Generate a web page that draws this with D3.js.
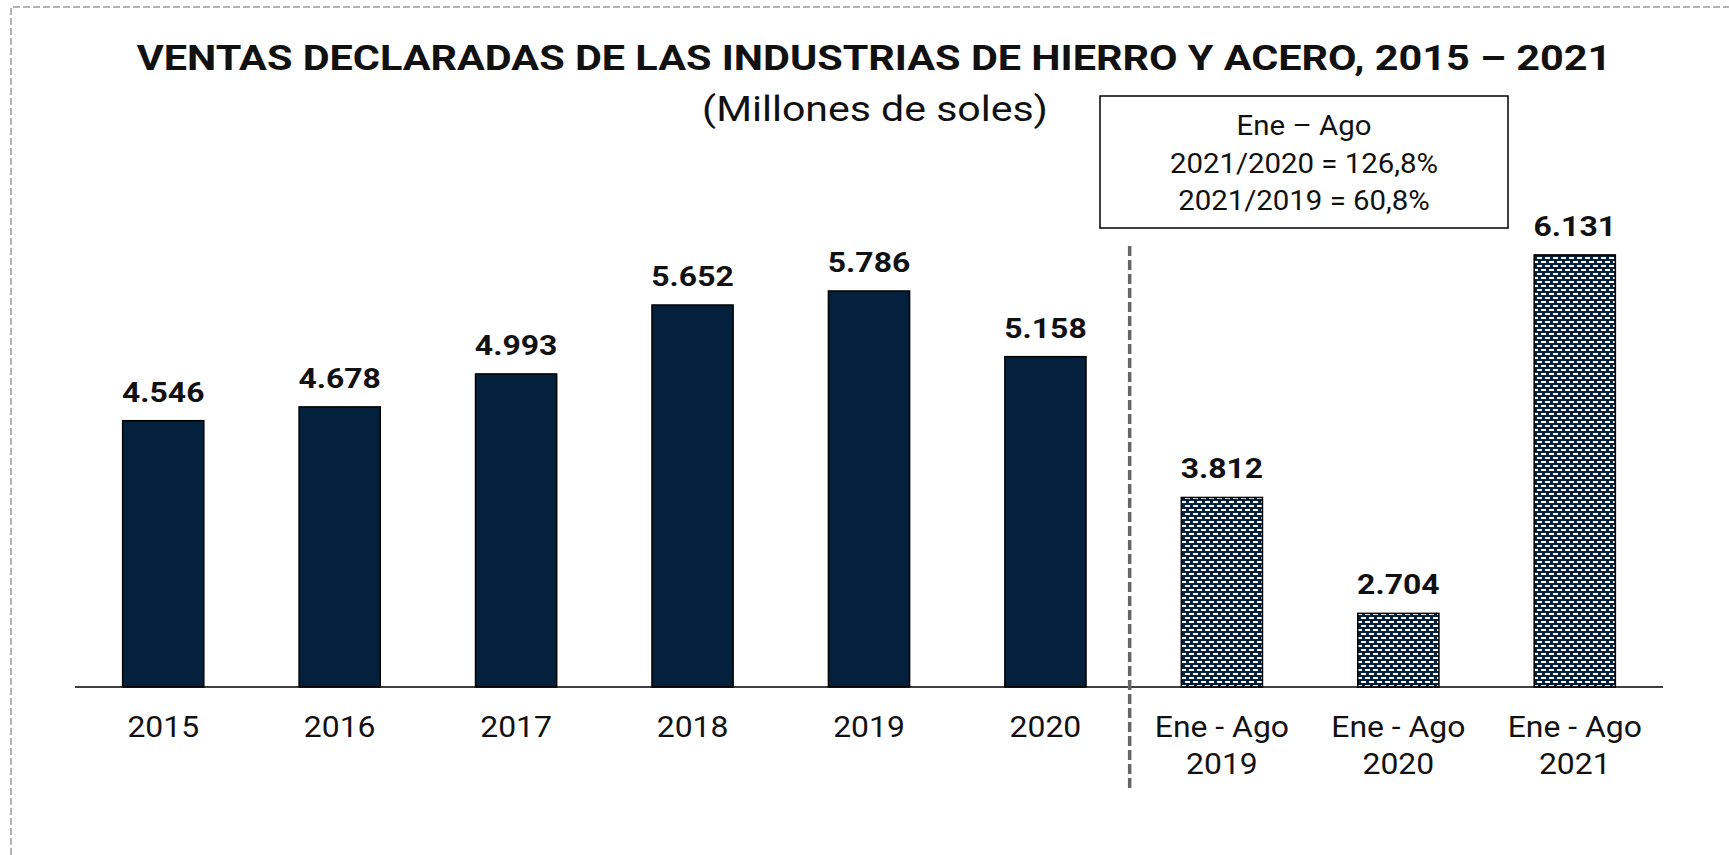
<!DOCTYPE html>
<html>
<head>
<meta charset="utf-8">
<script src="https://cdn.jsdelivr.net/npm/d3@7"></script>
<style>
  html, body { margin: 0; padding: 0; background: #fff; }
  svg { display: block; font-family: Roboto, "Noto Sans", sans-serif; }
</style>
</head>
<body>
<div id="chart"></div>
<script>
// data
var categories = ["2015", "2016", "2017", "2018", "2019", "2020", "Ene - Ago|2019", "Ene - Ago|2020", "Ene - Ago|2021"];
var values = [4546, 4678, 4993, 5652, 5786, 5158, 3812, 2704, 6131];
var valueLabels = ["4.546", "4.678", "4.993", "5.652", "5.786", "5.158", "3.812", "2.704", "6.131"];
var partial = [false, false, false, false, false, false, true, true, true];
var boxLines = ["Ene \u2013 Ago", "2021/2020 = 126,8%", "2021/2019 = 60,8%"];

var W = 1729, H = 855;
var baseY = 687;
var navy = "#03203c";

var svg = d3.select("#chart").append("svg")
  .attr("width", W)
  .attr("height", H);

// the original text is a bit wider than Roboto, so stretch horizontally
function place(x, y, sx) {
  return "translate(" + x + "," + y + ") scale(" + sx + ",1)";
}

// hatch pattern for the Ene-Ago bars
var defs = svg.append("defs");
var pat = defs.append("pattern")
  .attr("id", "bricks")
  .attr("patternUnits", "userSpaceOnUse")
  .attr("width", 8)
  .attr("height", 8);
pat.append("rect").attr("width", 8).attr("height", 8).attr("fill", navy);
pat.append("rect").attr("x", 1).attr("y", 1).attr("width", 5).attr("height", 2).attr("fill", "#fff");
pat.append("rect").attr("x", 5).attr("y", 5).attr("width", 5).attr("height", 2).attr("fill", "#fff");
pat.append("rect").attr("x", -3).attr("y", 5).attr("width", 5).attr("height", 2).attr("fill", "#fff");

// outer dashed frame (top and left)
svg.append("path")
  .attr("d", "M11," + H + " L11,7 L" + W + ",7")
  .attr("fill", "none")
  .attr("stroke", "#b4b4b4")
  .attr("stroke-width", 2)
  .attr("stroke-dasharray", "7,3");

// scales
var x = d3.scaleBand()
  .domain(categories)
  .range([75, 1663])
  .paddingInner(0.54)
  .paddingOuter(0.27);

var y = d3.scaleLinear()
  .domain([2000, 7000])
  .range([baseY, baseY - 523]);

// title
svg.append("text")
  .attr("transform", place(874, 70, 1.15))
  .attr("text-anchor", "middle")
  .style("font-size", "36px")
  .style("font-weight", "bold")
  .attr("fill", "#111")
  .text("VENTAS DECLARADAS DE LAS INDUSTRIAS DE HIERRO Y ACERO, 2015 \u2013 2021");

svg.append("text")
  .attr("transform", place(875, 121, 1.14))
  .attr("text-anchor", "middle")
  .style("font-size", "36px")
  .attr("fill", "#111")
  .text("(Millones de soles)");

// bars
svg.selectAll(".bar")
  .data(values)
  .enter()
  .append("rect")
  .attr("class", "bar")
  .attr("x", function (d, i) { return x(categories[i]); })
  .attr("y", function (d) { return y(d); })
  .attr("width", x.bandwidth())
  .attr("height", function (d) { return baseY - y(d); })
  .attr("fill", function (d, i) { return partial[i] ? "url(#bricks)" : navy; })
  .attr("stroke", "#000")
  .attr("stroke-width", 1.5);

// value labels
svg.selectAll(".val")
  .data(values)
  .enter()
  .append("text")
  .attr("class", "val")
  .attr("transform", function (d, i) {
    return place(x(categories[i]) + x.bandwidth() / 2, y(d) - 19, 1.14);
  })
  .attr("text-anchor", "middle")
  .style("font-size", "28px")
  .style("font-weight", "bold")
  .attr("fill", "#111")
  .text(function (d, i) { return valueLabels[i]; });

// x axis line
svg.append("line")
  .attr("x1", x.range()[0])
  .attr("x2", x.range()[1])
  .attr("y1", baseY)
  .attr("y2", baseY)
  .attr("stroke", "#000")
  .attr("stroke-width", 1.5);

// category labels
var cat = svg.selectAll(".cat")
  .data(categories)
  .enter()
  .append("text")
  .attr("class", "cat")
  .attr("transform", function (d) { return place(x(d) + x.bandwidth() / 2, 737, 1.1); })
  .attr("text-anchor", "middle")
  .style("font-size", "29px")
  .attr("fill", "#111");
cat.each(function (d) {
  var parts = d.split("|");
  var t = d3.select(this);
  parts.forEach(function (p, k) {
    t.append("tspan")
      .attr("x", 0)
      .attr("dy", k === 0 ? 0 : 37)
      .text(p);
  });
});

// divider between full years and Ene-Ago
var divX = (x(categories[5]) + x(categories[6]) + x.bandwidth()) / 2 - 4;
svg.append("line")
  .attr("x1", divX)
  .attr("x2", divX)
  .attr("y1", 246)
  .attr("y2", 790)
  .attr("stroke", "#666")
  .attr("stroke-width", 3.5)
  .attr("stroke-dasharray", "10,4");

// note box
svg.append("rect")
  .attr("x", 1100)
  .attr("y", 96)
  .attr("width", 408)
  .attr("height", 132)
  .attr("fill", "#fff")
  .attr("stroke", "#000")
  .attr("stroke-width", 1.5);

svg.selectAll(".box")
  .data(boxLines)
  .enter()
  .append("text")
  .attr("class", "box")
  .attr("transform", function (d, i) { return place(1304, 135 + i * 37.5, 1.05); })
  .attr("text-anchor", "middle")
  .style("font-size", "28px")
  .attr("fill", "#111")
  .text(function (d) { return d; });
</script>
</body>
</html>
